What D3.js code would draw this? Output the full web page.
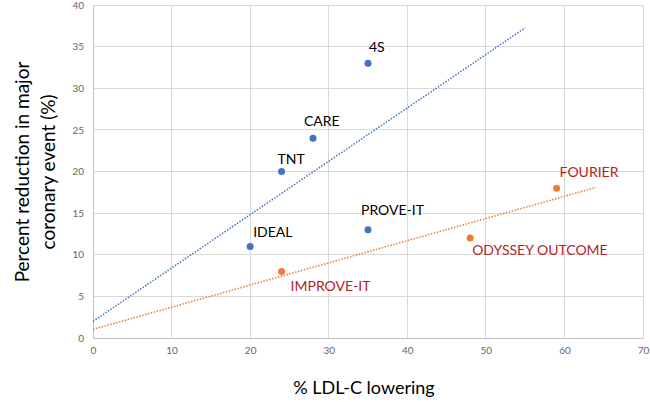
<!DOCTYPE html>
<html><head><meta charset="utf-8">
<script src="https://cdn.jsdelivr.net/npm/d3@7"></script>
<style>body{margin:0;background:#fff}svg{display:block}</style>
</head><body><svg id="c" width="650" height="402"></svg>
<script>
const studies = ["4S","CARE","TNT","IDEAL","PROVE-IT","IMPROVE-IT","ODYSSEY OUTCOME","FOURIER"];
const ldlLowering = [35,28,24,20,35,24,48,59];
const eventReduction = [33,24,20,11,13,8,12,18];
const group = ["statin","statin","statin","statin","statin","nonstatin","nonstatin","nonstatin"];
const xTicks = [0,10,20,30,40,50,60,70];
const yTicks = [0,5,10,15,20,25,30,35,40];
const trendEnd = {statin:55, nonstatin:64};

const labelOffset = [[1,-11],[-9,-12],[-4,-8],[3,-9],[-7,-15],[9,20],[2,17],[3,-11]];
const color = {statin:"#4472C4", nonstatin:"#ED7D31"};
const labelColor = {statin:"#000000", nonstatin:"#B02424"};
const FONT = "Lato, 'Open Sans', sans-serif";

const svg = d3.select("#c");
const W = 650, H = 402;
const x = d3.scaleLinear().domain([0,70]).range([93, 643]);
const y = d3.scaleLinear().domain([0,40]).range([338, 5]);

// grid
svg.append("g").selectAll("line").data(xTicks).join("line")
  .attr("x1",d=>x(d)).attr("x2",d=>x(d)).attr("y1",y(0)).attr("y2",y(40))
  .attr("stroke","#d9d9d9").attr("stroke-width",1).attr("shape-rendering","crispEdges");
svg.append("g").selectAll("line").data(yTicks).join("line")
  .attr("y1",d=>y(d)).attr("y2",d=>y(d)).attr("x1",x(0)).attr("x2",x(70))
  .attr("stroke","#d9d9d9").attr("stroke-width",1).attr("shape-rendering","crispEdges");

// axes
const xAxis = svg.append("g").attr("transform",`translate(0,${y(0)})`)
  .call(d3.axisBottom(x).tickValues(xTicks).tickSize(0).tickPadding(9));
const yAxis = svg.append("g").attr("transform",`translate(${x(0)},0)`)
  .call(d3.axisLeft(y).tickValues(yTicks).tickSize(0).tickPadding(9));
[xAxis,yAxis].forEach(a=>{
  a.select(".domain").attr("stroke","#bfbfbf");
  a.selectAll("text").attr("fill","#666").style("font-family",FONT).style("font-size","10px");
});

// trend lines (least squares)
const data = studies.map((s,i)=>({s, x:ldlLowering[i], y:eventReduction[i], g:group[i], off:labelOffset[i]}));
["statin","nonstatin"].forEach(g=>{
  const pts = data.filter(d=>d.g===g);
  const mx = d3.mean(pts,d=>d.x), my = d3.mean(pts,d=>d.y);
  const sxy = d3.sum(pts,d=>(d.x-mx)*(d.y-my)), sxx = d3.sum(pts,d=>(d.x-mx)**2);
  const b = sxy/sxx, a = my-b*mx;
  svg.append("line").attr("x1",x(0)).attr("y1",y(a)).attr("x2",x(trendEnd[g])).attr("y2",y(a+b*trendEnd[g]))
    .attr("stroke",color[g]).attr("stroke-width",1.5).attr("stroke-dasharray","1.5,1.5");
});

// points
svg.append("g").selectAll("circle").data(data).join("circle")
  .attr("cx",d=>x(d.x)).attr("cy",d=>y(d.y)).attr("r",3.5).attr("fill",d=>color[d.g]);

// labels
svg.append("g").selectAll("text").data(data).join("text")
  .attr("x",d=>x(d.x)+d.off[0]).attr("y",d=>y(d.y)+d.off[1])
  .attr("fill",d=>labelColor[d.g])
  .style("font-family",FONT).style("font-size","14px")
  .text(d=>d.s);

// axis titles
svg.append("text").attr("x",364).attr("y",394).attr("text-anchor","middle")
  .style("font-family",FONT).style("font-size","18px").attr("fill","#000")
  .text("% LDL-C lowering");
const yt = svg.append("text").attr("transform","translate(29,172) rotate(-90)").attr("text-anchor","middle")
  .style("font-family",FONT).style("font-size","19px").attr("fill","#000");
yt.append("tspan").attr("x",0).attr("dy",0).text("Percent reduction in major");
yt.append("tspan").attr("x",0).attr("dy",26).text("coronary event (%)");
</script></body></html>
